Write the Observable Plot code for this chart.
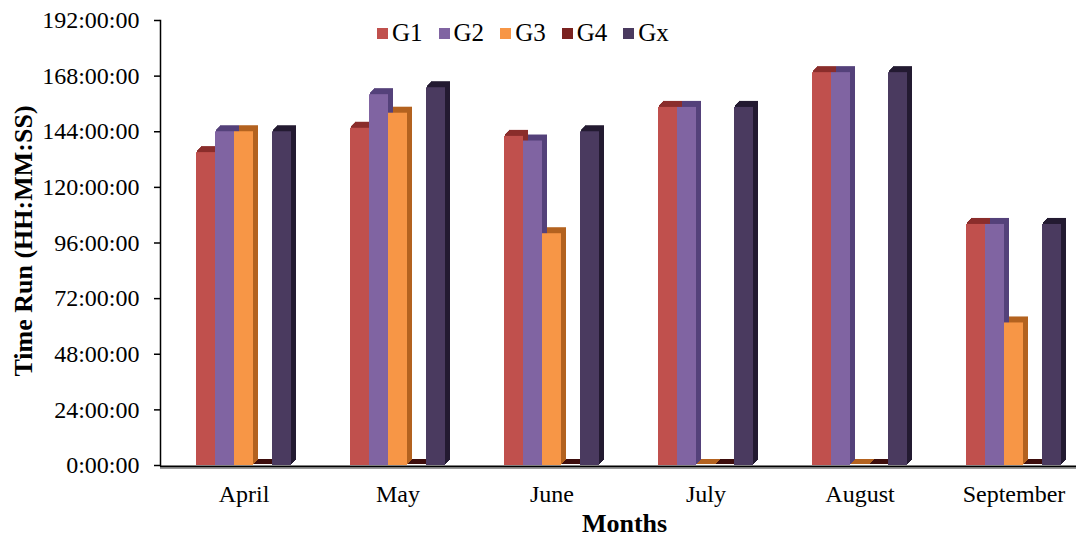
<!DOCTYPE html>
<html>
<head>
<meta charset="utf-8">
<script src="https://cdn.jsdelivr.net/npm/d3@7"></script>
<script src="https://cdn.jsdelivr.net/npm/@observablehq/plot@0.6"></script>
<style>
  body { margin: 0; background: #fff; }
  #wrap { position: relative; width: 1076px; height: 540px; font-family: "Liberation Serif", "Times New Roman", serif; }
  #legend { position: absolute; left: 377px; top: 18px; display: flex; align-items: center; font-size: 25px; color: #000; line-height: 30px; }
  #legend .item { display: flex; align-items: center; margin-right: 16px; }
  #legend .sw { width: 11px; height: 11px; margin-right: 4px; }
</style>
</head>
<body>
<div id="wrap"><div id="legend"></div></div>
<script>
// ---- data (hours) ----
const months = ["April", "May", "June", "July", "August", "September"];
const seriesNames = ["G1", "G2", "G3", "G4", "Gx"];
const g1 = [135, 145.5, 142, 154.5, 169.5, 104];
const g2 = [144, 160, 140, 154.5, 169.5, 104];
const g3 = [144, 152, 100, 0, 0, 61.5];
const g4 = [0, 0, 0, 0, 0, 0];
const gx = [144, 163, 144, 154.5, 169.5, 104];
const yTicks = [0, 24, 48, 72, 96, 120, 144, 168, 192];

const frontColors = ["#c0504d", "#8064a2", "#f79646", "#7a2220", "#4a3a5f"];
const sideColors = ["#8a2d2b", "#54417a", "#b3621f", "#3d0d0c", "#231a31"];

const seriesValues = [g1, g2, g3, g4, gx];
const data = months.flatMap((m, i) =>
  seriesNames.map((s, j) => ({ month: m, series: s, value: seriesValues[j][i] }))
);

const slot = 19;
const nS = seriesNames.length;
const marks = [];

// 3D depth layers (top & side faces)
for (let k = 1; k <= 5; k++) {
  seriesNames.forEach((s, j) => {
    marks.push(Plot.barY(data.filter(d => d.series === s), {
      x: "month", y: "value", fill: sideColors[j],
      insetLeft: slot * j, insetRight: slot * (nS - 1 - j),
      dx: k, dy: -k, insetTop: -1
    }));
  });
}
// front faces
seriesNames.forEach((s, j) => {
  marks.push(Plot.barY(data.filter(d => d.series === s), {
    x: "month", y: "value", fill: frontColors[j],
    insetLeft: slot * j, insetRight: slot * (nS - 1 - j)
  }));
});

const chart = Plot.plot({
  width: 1076,
  height: 540,
  marginLeft: 160,
  marginRight: 0,
  marginTop: 20,
  marginBottom: 75,
  style: { fontFamily: "Liberation Serif, Times New Roman, serif", background: "transparent", color: "#000" },
  x: { type: "band", domain: months, range: [134, 1122.6], padding: 0.3863 },
  y: { domain: [0, 192], range: [465, 20] },
  marks: [
    ...marks,
    Plot.axisY({ ticks: yTicks, tickFormat: d => `${d}:00:00`, tickSize: 6, tickPadding: 15, fontSize: 24, label: null, stroke: "#000", strokeWidth: 1.5 }),
    Plot.axisX({ tickSize: 0, tickPadding: 19, fontSize: 24, label: null }),
    Plot.frame({ anchor: "left", stroke: "#000", strokeWidth: 1.5 }),
    Plot.ruleY([0], { stroke: "#999", strokeWidth: 1, dy: 3 }),
    Plot.ruleY([0], { stroke: "#000", strokeWidth: 2, dy: 1 }),
    Plot.text(["Time Run (HH:MM:SS)"], { frameAnchor: "left", textAnchor: "middle", rotate: -90, dx: -137, dy: -2, fontWeight: "bold", fontSize: 26 }),
    Plot.text(["Months"], { frameAnchor: "bottom", dy: 66, dx: 6, fontWeight: "bold", fontSize: 26 })
  ]
});

const wrap = document.getElementById("wrap");
wrap.insertBefore(chart, wrap.firstChild);

const legend = document.getElementById("legend");
seriesNames.forEach((s, j) => {
  const it = document.createElement("div");
  it.className = "item";
  const sw = document.createElement("div");
  sw.className = "sw";
  sw.style.background = frontColors[j];
  const t = document.createElement("span");
  t.textContent = s;
  it.appendChild(sw);
  it.appendChild(t);
  legend.appendChild(it);
});
</script>
</body>
</html>
